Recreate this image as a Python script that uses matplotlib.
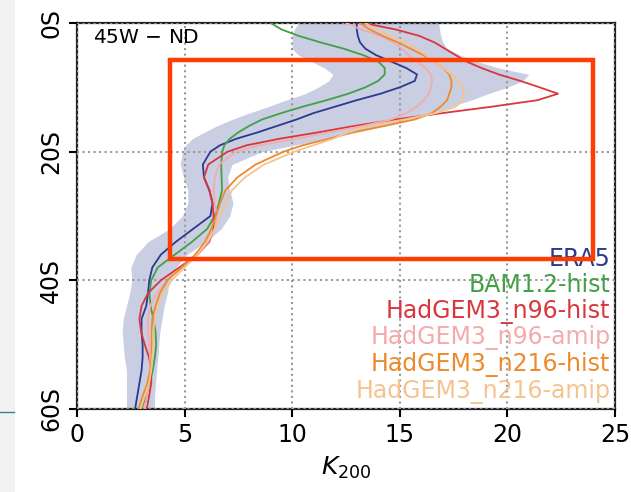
import matplotlib
matplotlib.use("Agg")
import matplotlib.pyplot as plt
import numpy as np
from matplotlib.patches import Rectangle
from matplotlib.lines import Line2D

# latitude (degrees south)
lats = [0, 1, 2, 3, 4, 5, 6, 7, 8, 9, 10, 11, 12, 13, 14, 15, 16, 17, 18, 19,
        20, 22, 24, 26, 28, 30, 32, 34, 36, 38, 40, 42, 44, 46, 48, 50, 52, 54,
        56, 58, 60]

era5 = [13.0, 13.0, 13.05, 13.15, 13.4, 13.9, 14.6, 15.3, 15.8, 15.7, 15.0,
        14.1, 13.0, 12.0, 11.0, 10.2, 9.3, 8.4, 7.4, 6.65, 6.2, 5.85, 5.9,
        6.15, 6.3, 6.2, 5.4, 4.6, 3.9, 3.5, 3.36, 3.3, 3.22, 3.0, 3.0, 3.05,
        3.05, 3.0, 2.9, 2.8, 2.7]
era5_lo = [10.3, 10.1, 10.0, 10.0, 10.0, 10.3, 10.9, 11.5, 11.9, 11.7, 11.2,
           10.6, 9.7, 8.9, 8.0, 7.2, 6.5, 5.9, 5.35, 5.05, 4.9, 4.8, 4.95,
           5.15, 5.15, 4.9, 4.3, 3.3, 2.75, 2.5, 2.55, 2.45, 2.3, 2.15, 2.1,
           2.15, 2.2, 2.3, 2.3, 2.3, 2.3]
era5_hi = [16.8, 16.85, 16.9, 17.0, 17.2, 17.8, 18.6, 19.6, 21.0, 20.7, 20.0,
           19.1, 18.3, 17.4, 16.5, 15.5, 14.3, 13.0, 11.6, 10.1, 8.6, 7.2, 7.0,
           7.1, 7.25, 7.1, 6.7, 6.0, 5.1, 4.6, 4.3, 4.2, 4.05, 3.95, 3.85, 3.8,
           3.75, 3.7, 3.65, 3.6, 3.6]
bam_hist = [9.0, 9.5, 10.3, 11.3, 12.4, 13.3, 14.0, 14.3, 14.3, 14.0, 13.4,
            12.6, 11.6, 10.5, 9.5, 8.6, 8.0, 7.5, 7.1, 6.85, 6.75, 6.7, 6.72,
            6.74, 6.6, 6.4, 6.05, 5.35, 4.55, 3.75, 3.45, 3.37, 3.42, 3.55,
            3.65, 3.68, 3.62, 3.52, 3.38, 3.2, 3.0]
n96_hist = [13.3, 14.8, 15.9, 16.6, 17.1, 17.6, 18.1, 18.8, 19.6, 20.6, 21.5,
            22.35, 21.4, 19.3, 17.0, 14.8, 12.9, 11.2, 9.4, 7.9, 7.0, 6.1, 5.9,
            6.15, 6.3, 6.35, 6.35, 6.15, 5.6, 4.75, 3.9, 3.3, 3.0, 2.9, 2.98,
            3.15, 3.35, 3.45, 3.45, 3.35, 3.24]
n96_amip = [12.5, 13.2, 14.1, 14.7, 15.1, 15.4, 15.8, 16.2, 16.45, 16.5,
            16.45, 16.35, 16.1, 15.8, 15.3, 14.6, 13.3, 11.7, 10.2, 8.5, 7.4,
            6.6, 6.4, 6.35, 6.4, 6.5, 6.4, 6.1, 5.6, 4.9, 4.2, 3.7, 3.4, 3.3,
            3.3, 3.35, 3.4, 3.4, 3.35, 3.25, 3.15]
n216_hist = [13.15, 13.6, 14.2, 14.9, 15.5, 16.1, 16.6, 17.0, 17.3, 17.4, 17.4,
             17.3, 17.2, 16.9, 16.5, 15.7, 14.3, 12.8, 11.7, 10.5, 9.6, 8.3,
             7.45, 6.9, 6.65, 6.45, 6.25, 5.95, 5.5, 4.85, 4.2, 3.85, 3.65,
             3.5, 3.47, 3.47, 3.47, 3.4, 3.27, 3.05, 2.85]
n216_amip = [13.4, 13.9, 14.6, 15.3, 15.8, 16.2, 16.6, 17.0, 17.4, 17.7, 17.9,
             18.0, 17.9, 17.6, 16.7, 15.2, 13.6, 12.6, 11.9, 11.0, 10.1, 8.7,
             7.8, 7.2, 6.9, 6.65, 6.4, 6.05, 5.6, 5.0, 4.4, 4.0, 3.75, 3.6,
             3.55, 3.55, 3.5, 3.45, 3.35, 3.15, 2.95]

labels = ["ERA5", "BAM1.2-hist", "HadGEM3_n96-hist", "HadGEM3_n96-amip",
          "HadGEM3_n216-hist", "HadGEM3_n216-amip"]
colors = ["#2b3a8f", "#43a047", "#d9363e", "#f5abab", "#ec8a2c", "#f5c48e"]
series = [era5, bam_hist, n96_hist, n96_amip, n216_hist, n216_amip]

xticks = [0, 5, 10, 15, 20, 25]
yticks = [0, -20, -40, -60]
yticklabels = ["0S", "20S", "40S", "60S"]

# highlighted box (K, lat)
box_x = (4.32, 23.98)
box_y = (-36.7, -5.75)

fig = plt.figure(figsize=(6.31, 4.92), dpi=100)
ax = fig.add_axes([0.122, 0.1687, 0.8526, 0.7846])

y = -np.array(lats)
ax.fill_betweenx(y, era5_lo, era5_hi, color="#2a3d8f", alpha=0.25, lw=0, zorder=1)
for vals, lab, col in zip(series, labels, colors):
    ax.plot(vals, y, color=col, lw=1.3, label=lab, zorder=3)

ax.set_xlim(0, 25)
ax.set_ylim(-60, 0)
ax.set_xticks(xticks)
ax.set_yticks(yticks)
ax.set_yticklabels(yticklabels, rotation=90, va="center")
ax.tick_params(direction="out", length=6, width=1.5, labelsize=17, pad=4,
               top=False, right=False)
for sp in ax.spines.values():
    sp.set_linewidth(1.6)
    sp.set_color("#222222")
ax.grid(True, linestyle=":", color="#999999", lw=1.5, zorder=2)
ax.set_axisbelow(False)
ax.set_xlabel("$K_{200}$", fontsize=18, labelpad=6)

ax.text(0.03, 0.963, "45W $-$ ND", transform=ax.transAxes, fontsize=14.5,
        va="center", ha="left")

leg = ax.legend(loc="lower right", handlelength=0, handletextpad=0,
                markerfirst=False, frameon=False, fontsize=17,
                labelspacing=0.08, borderaxespad=0.1, borderpad=0.1,
                labelcolor=colors)
for h in leg.legend_handles:
    h.set_visible(False)

ax.add_patch(Rectangle((box_x[0], box_y[0]), box_x[1] - box_x[0],
                       box_y[1] - box_y[0], fill=False, edgecolor="#ff3d00",
                       lw=3.2, zorder=6, clip_on=False))

# page strip on the left
fig.patches.append(Rectangle((0, 0), 14 / 631, 1, transform=fig.transFigure,
                             color="#f2f2f2", zorder=0))
fig.lines.append(Line2D([0, 14 / 631], [1 - 412 / 492] * 2,
                        transform=fig.transFigure, color="#2a8a9a", lw=1))

fig.savefig("out.png", dpi=100)
